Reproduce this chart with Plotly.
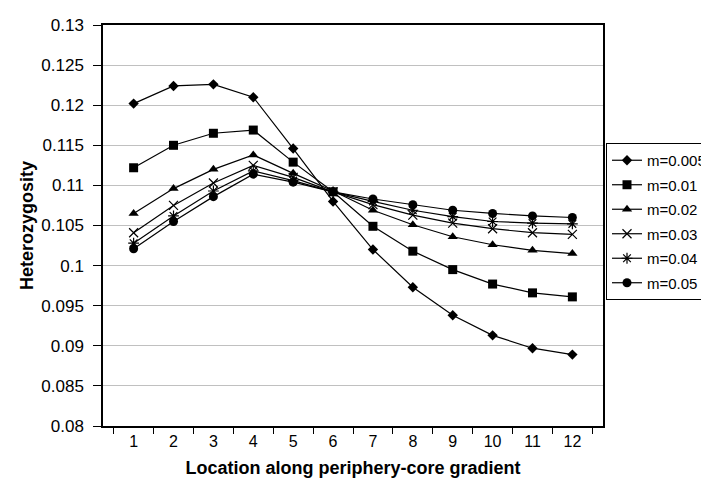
import plotly.graph_objects as go

# Standorte entlang des Gradienten
locations = [str(i) for i in range(1, 13)]

series_names = ["m=0.005", "m=0.01", "m=0.02", "m=0.03", "m=0.04", "m=0.05"]

m_0005 = [0.1202, 0.1224, 0.1226, 0.1210, 0.1146, 0.1080, 0.1020, 0.0973, 0.0938, 0.0913, 0.0897, 0.0889]
m_001 = [0.1122, 0.1150, 0.1165, 0.1169, 0.1129, 0.1092, 0.1049, 0.1018, 0.0995, 0.0977, 0.0966, 0.0961]
m_002 = [0.1065, 0.1096, 0.1120, 0.1138, 0.1115, 0.1093, 0.1069, 0.1051, 0.1036, 0.1026, 0.1019, 0.1015]
m_003 = [0.1041, 0.1075, 0.1103, 0.1125, 0.1110, 0.1092, 0.1076, 0.1063, 0.1053, 0.1046, 0.1041, 0.1039]
m_004 = [0.1028, 0.1062, 0.1093, 0.1118, 0.1106, 0.1092, 0.1080, 0.1069, 0.1061, 0.1055, 0.1053, 0.1052]
m_005 = [0.1021, 0.1055, 0.1086, 0.1114, 0.1104, 0.1092, 0.1083, 0.1076, 0.1069, 0.1065, 0.1062, 0.1060]

y_ticks = [0.08, 0.085, 0.09, 0.095, 0.1, 0.105, 0.11, 0.115, 0.12, 0.125, 0.13]

all_series = [m_0005, m_001, m_002, m_003, m_004, m_005]

# Marker je Serie (Excel-Stil)
markers = [
    dict(symbol="diamond", size=8),
    dict(symbol="square", size=9),
    dict(symbol="triangle-up", size=9),
    dict(symbol="x-thin-open", size=9, line=dict(width=1.2, color="black")),
    dict(symbol="asterisk-open", size=9, line=dict(width=1.2, color="black")),
    dict(symbol="circle", size=9),
]

fig = go.Figure()

for i, (name, vals) in enumerate(zip(series_names, all_series)):
    mk = dict(color="black")
    mk.update(markers[i])
    fig.add_trace(go.Scatter(
        x=locations,
        y=vals,
        name=name,
        mode="lines+markers",
        line=dict(color="black", width=1.2),
        marker=mk,
        legendgroup=f"g{i}",
    ))

fig.update_layout(
    width=709,
    height=484,
    paper_bgcolor="white",
    plot_bgcolor="white",
    margin=dict(l=95, r=114, t=17, b=66, autoexpand=False),
    font=dict(family="Liberation Sans, Arial, sans-serif", size=15, color="black"),
    showlegend=True,
    legend=dict(
        x=1.006,
        xanchor="left",
        y=0.51,
        yanchor="middle",
        bordercolor="black",
        borderwidth=1,
        bgcolor="white",
        font=dict(size=15),
        tracegroupgap=2,
    ),
)

fig.update_xaxes(
    type="category",
    tickson="boundaries",
    ticks="outside",
    ticklen=6,
    tickcolor="black",
    tickfont=dict(size=16),
    showline=True,
    linecolor="black",
    linewidth=1.5,
    mirror=True,
    showgrid=False,
    automargin=False,
    title=dict(text="<b>Location along periphery-core gradient</b>", standoff=12),
)

fig.update_yaxes(
    range=[0.08, 0.13],
    tickvals=y_ticks,
    ticktext=[f"{v:g}" for v in y_ticks],
    ticks="outside",
    ticklen=8,
    tickcolor="black",
    tickfont=dict(size=17),
    ticklabelstandoff=6,
    showline=True,
    linecolor="black",
    linewidth=1.5,
    mirror=True,
    showgrid=True,
    gridcolor="#c0c0c0",
    gridwidth=1.3,
    zeroline=False,
    automargin=False,
    title=dict(text="<b>Heterozygosity</b>", standoff=3),
)

fig.write_html("out.html")
